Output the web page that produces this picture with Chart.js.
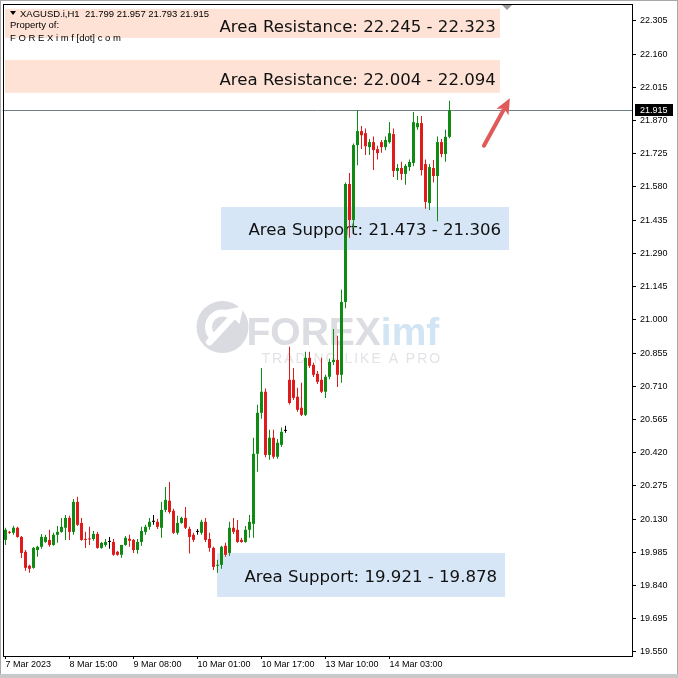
<!DOCTYPE html>
<html>
<head>
<meta charset="utf-8">
<title>XAGUSD H1</title>
<script src="https://cdn.jsdelivr.net/npm/chart.js@4.4.0/dist/chart.umd.min.js"></script>
<style>
  html, body { margin: 0; padding: 0; background: #fff; }
  #wrap { width: 678px; height: 678px; }
</style>
</head>
<body>
<div id="wrap"><canvas id="chart" width="678" height="678"></canvas></div>
<script>
// header line of the chart window
const symbolLine = 'XAGUSD.i,H1  21.799 21.957 21.793 21.915';

// hourly candles, 7 Mar 2023 -> 14 Mar
const opens = [
  20.039, 20.074, 20.070, 20.092, 20.052, 19.987, 19.926, 19.917, 19.995, 20.009,
  20.030, 20.039, 20.017, 20.061, 20.074, 20.092, 20.135, 20.074, 20.205, 20.113,
  20.043, 20.045, 20.043, 20.065, 20.004, 20.017, 20.030, 20.030, 19.987, 19.974,
  20.017, 20.044, 20.039, 19.995, 20.030, 20.074, 20.096, 20.118, 20.118, 20.092,
  20.170, 20.210, 20.166, 20.070, 20.113, 20.135, 20.087, 20.061, 20.074, 20.070,
  20.118, 20.043, 20.004, 19.926, 19.930, 20.013, 19.982, 20.092, 20.083, 20.039,
  20.030, 20.083, 20.109, 20.415, 20.594, 20.686, 20.410, 20.485, 20.402, 20.454,
  20.515, 20.738, 20.738, 20.664, 20.616, 20.585, 20.834, 20.803, 20.764, 20.738,
  20.686, 20.751, 20.816, 20.825, 20.760, 21.078, 21.593, 21.436, 21.763, 21.824,
  21.815, 21.754, 21.776, 21.745, 21.776, 21.754, 21.776, 21.811, 21.650, 21.663,
  21.637, 21.667, 21.685, 21.841, 21.859, 21.680, 21.510, 21.663, 21.628, 21.776,
  21.724, 21.799
];
const highs = [
  20.092, 20.078, 20.101, 20.096, 20.056, 19.995, 19.930, 20.008, 20.013, 20.065,
  20.061, 20.083, 20.070, 20.100, 20.135, 20.148, 20.144, 20.218, 20.227, 20.135,
  20.074, 20.096, 20.078, 20.074, 20.030, 20.043, 20.052, 20.043, 19.991, 20.017,
  20.056, 20.061, 20.043, 20.043, 20.096, 20.105, 20.135, 20.148, 20.131, 20.205,
  20.270, 20.292, 20.175, 20.144, 20.140, 20.183, 20.096, 20.070, 20.087, 20.127,
  20.135, 20.070, 20.009, 19.952, 20.013, 20.026, 20.118, 20.135, 20.126, 20.048,
  20.100, 20.148, 20.485, 20.629, 20.790, 20.700, 20.520, 20.520, 20.480, 20.530,
  20.537, 20.882, 20.790, 20.703, 20.725, 20.860, 20.860, 20.812, 20.777, 20.834,
  20.760, 20.830, 20.960, 20.930, 21.131, 21.600, 21.641, 21.770, 21.915, 21.846,
  21.835, 21.790, 21.800, 21.760, 21.785, 21.800, 21.864, 21.835, 21.680, 21.690,
  21.680, 21.700, 21.907, 21.890, 21.890, 21.700, 21.680, 21.698, 21.800, 21.790,
  21.830, 21.957
];
const lows = [
  20.017, 20.065, 20.061, 20.048, 19.960, 19.904, 19.895, 19.913, 19.965, 20.000,
  20.026, 20.009, 20.013, 20.026, 20.070, 20.039, 20.039, 20.061, 20.100, 20.035,
  20.004, 20.017, 20.035, 20.000, 20.000, 20.009, 20.000, 19.970, 19.970, 19.961,
  20.013, 20.009, 19.982, 19.978, 20.013, 20.061, 20.083, 20.105, 20.087, 20.048,
  20.160, 20.153, 20.065, 20.061, 20.109, 20.087, 19.980, 20.030, 20.061, 20.061,
  20.030, 19.987, 19.908, 19.895, 19.913, 19.965, 19.970, 20.065, 20.026, 20.026,
  20.026, 20.048, 20.048, 20.336, 20.568, 20.400, 20.389, 20.393, 20.393, 20.445,
  20.507, 20.630, 20.650, 20.598, 20.580, 20.580, 20.790, 20.750, 20.720, 20.680,
  20.659, 20.740, 20.803, 20.707, 20.725, 21.050, 21.358, 21.400, 21.675, 21.746,
  21.720, 21.720, 21.654, 21.700, 21.730, 21.740, 21.770, 21.624, 21.610, 21.610,
  21.590, 21.650, 21.670, 21.830, 21.630, 21.485, 21.480, 21.600, 21.430, 21.710,
  21.690, 21.793
];
const closes = [
  20.083, 20.070, 20.092, 20.052, 19.982, 19.917, 19.913, 20.004, 20.009, 20.052,
  20.052, 20.017, 20.061, 20.074, 20.096, 20.135, 20.074, 20.205, 20.105, 20.039,
  20.039, 20.041, 20.065, 20.004, 20.026, 20.030, 20.030, 19.974, 19.974, 20.017,
  20.048, 20.035, 19.995, 20.030, 20.078, 20.096, 20.118, 20.118, 20.096, 20.170,
  20.214, 20.161, 20.070, 20.113, 20.135, 20.092, 20.052, 20.039, 20.074, 20.118,
  20.039, 20.004, 19.921, 19.930, 20.009, 19.974, 20.092, 20.074, 20.030, 20.030,
  20.083, 20.118, 20.415, 20.594, 20.686, 20.410, 20.485, 20.402, 20.463, 20.511,
  20.515, 20.637, 20.659, 20.607, 20.585, 20.834, 20.799, 20.760, 20.729, 20.686,
  20.751, 20.816, 20.825, 20.760, 21.078, 21.593, 21.436, 21.763, 21.824, 21.806,
  21.758, 21.776, 21.741, 21.728, 21.754, 21.785, 21.815, 21.650, 21.663, 21.637,
  21.672, 21.689, 21.863, 21.859, 21.654, 21.515, 21.667, 21.628, 21.776, 21.724,
  21.799, 21.915
];

const xTickIndex = [0, 16, 32, 48, 64, 80, 96];
const xTickLabels = ['7 Mar 2023', '8 Mar 15:00', '9 Mar 08:00', '10 Mar 01:00',
                     '10 Mar 17:00', '13 Mar 10:00', '14 Mar 03:00'];
const yTicks = [19.550, 19.695, 19.840, 19.985, 20.130, 20.275, 20.420, 20.565, 20.710, 20.855,
                21.000, 21.145, 21.290, 21.435, 21.580, 21.725, 21.870, 22.015, 22.160, 22.305];
const lastPrice = 21.915;

// labelled areas: bar range (from/to) and price range (top/bottom)
const zoneText = ['Area Resistance: 22.245 - 22.323', 'Area Resistance: 22.004 - 22.094',
                  'Area Support: 21.473 - 21.306', 'Area Support: 19.921 - 19.878'];
const zoneFrom = [-0.125, -0.125, 53.9, 52.9];
const zoneTo = [123.6, 123.6, 125.9, 124.9];
const zoneTop = [22.358, 22.135, 21.493, 19.982];
const zoneBottom = [22.231, 21.991, 21.305, 19.790];
const zoneKind = ['res', 'res', 'sup', 'sup'];

// arrow pointing up from the last bars (bar index, price)
const arrowFrom = [119.6, 21.760];
const arrowTo = [126.1, 21.967];

const UP = '#0f8a12';
const DOWN = '#e01b1b';
const DOJI = '#000000';

const idx = opens.map((_, i) => i);
const candleColor = idx.map(i => closes[i] > opens[i] ? UP : (closes[i] < opens[i] ? DOWN : DOJI));

Chart.defaults.font.family = '"Liberation Sans", Arial, sans-serif';
Chart.defaults.font.size = 9;
Chart.defaults.color = '#000';

const decor = {
    id: 'decor',
    beforeDraw(chart) {
        const c = chart.ctx;
        c.save();
        c.fillStyle = '#fff';
        c.fillRect(0, 0, chart.width, chart.height);
        c.restore();
    },
    beforeDatasetsDraw(chart) {
        const c = chart.ctx;
        const a = chart.chartArea;
        const x = chart.scales.x, y = chart.scales.y;
        c.save();

        // watermark
        const cx = (a.left + a.right) / 2, cy = (a.top + a.bottom) / 2;
        c.fillStyle = '#dadae1';
        c.beginPath();
        c.arc(cx - 95, cy - 3, 26, 0, Math.PI * 2);
        c.fill();
        c.strokeStyle = '#fff';
        c.lineWidth = 7;
        c.lineCap = 'round';
        c.beginPath();
        c.arc(cx - 95, cy - 3, 14, Math.PI * 0.75, Math.PI * 1.75);
        c.stroke();
        c.beginPath();
        c.moveTo(cx - 108, cy + 12);
        c.lineTo(cx - 84, cy - 14);
        c.stroke();
        c.fillStyle = '#fff';
        c.beginPath();
        c.moveTo(cx - 74, cy - 24);
        c.lineTo(cx - 92, cy - 20);
        c.lineTo(cx - 78, cy - 6);
        c.closePath();
        c.fill();
        c.font = 'bold 39px "Liberation Sans"';
        c.textBaseline = 'alphabetic';
        c.textAlign = 'left';
        c.fillStyle = '#dcdce3';
        c.fillText('FOREX', cx - 71, cy + 15);
        const w = c.measureText('FOREX').width;
        c.fillStyle = '#d2e5f4';
        c.fillText('imf', cx - 71 + w, cy + 15);
        c.font = '14px "Liberation Sans"';
        c.letterSpacing = '2px';
        c.fillStyle = '#e3e3e7';
        c.fillText('TRADING LIKE A PRO', cx - 56, cy + 33);
        c.letterSpacing = '0px';

        // areas
        zoneText.forEach((t, i) => {
            const x0 = x.getPixelForValue(zoneFrom[i]);
            const x1 = x.getPixelForValue(zoneTo[i]);
            const y0 = y.getPixelForValue(zoneTop[i]);
            const y1 = y.getPixelForValue(zoneBottom[i]);
            c.fillStyle = zoneKind[i] === 'res' ? '#fde2d5' : '#d6e6f6';
            c.fillRect(x0, y0, x1 - x0, y1 - y0);
            c.fillStyle = '#111';
            c.font = '16.6px "DejaVu Sans"';
            c.textAlign = 'right';
            c.textBaseline = 'middle';
            const pad = zoneKind[i] === 'res' ? 4 : 8;
            const shift = zoneKind[i] === 'res' ? 4.5 : 2.5;
            c.fillText(t, x1 - pad, (y0 + y1) / 2 + shift);
        });

        // current price line
        const py = Math.round(y.getPixelForValue(lastPrice)) + 0.5;
        c.strokeStyle = '#6e7f8a';
        c.lineWidth = 1;
        c.beginPath();
        c.moveTo(a.left, py);
        c.lineTo(a.right, py);
        c.stroke();
        c.restore();
    },
    afterDraw(chart) {
        const c = chart.ctx;
        const a = chart.chartArea;
        const x = chart.scales.x, y = chart.scales.y;
        c.save();

        // arrow
        const ax0 = x.getPixelForValue(arrowFrom[0]), ay0 = y.getPixelForValue(arrowFrom[1]);
        const ax1 = x.getPixelForValue(arrowTo[0]), ay1 = y.getPixelForValue(arrowTo[1]);
        const ang = Math.atan2(ay1 - ay0, ax1 - ax0);
        const head = 17;
        c.strokeStyle = '#e05a5a';
        c.fillStyle = '#e05a5a';
        c.lineWidth = 4;
        c.lineCap = 'round';
        c.beginPath();
        c.moveTo(ax0, ay0);
        c.lineTo(ax1 - Math.cos(ang) * head * 0.8, ay1 - Math.sin(ang) * head * 0.8);
        c.stroke();
        c.beginPath();
        c.moveTo(ax1, ay1);
        c.lineTo(ax1 - head * Math.cos(ang - 0.42), ay1 - head * Math.sin(ang - 0.42));
        c.lineTo(ax1 - head * 0.7 * Math.cos(ang), ay1 - head * 0.7 * Math.sin(ang));
        c.lineTo(ax1 - head * Math.cos(ang + 0.42), ay1 - head * Math.sin(ang + 0.42));
        c.closePath();
        c.fill();

        // plot frame
        c.strokeStyle = '#000';
        c.lineWidth = 1;
        c.strokeRect(a.left + 0.5, a.top + 0.5, a.right - a.left, a.bottom - a.top);

        // chart shift marker
        c.fillStyle = '#9a9a9a';
        c.beginPath();
        c.moveTo(502, a.top + 1);
        c.lineTo(512, a.top + 1);
        c.lineTo(507, a.top + 6);
        c.closePath();
        c.fill();

        // header texts
        c.fillStyle = '#000';
        c.beginPath();
        c.moveTo(10, 11);
        c.lineTo(16, 11);
        c.lineTo(13, 15);
        c.closePath();
        c.fill();
        c.font = '9.5px "Liberation Sans"';
        c.textAlign = 'left';
        c.textBaseline = 'alphabetic';
        c.fillText(symbolLine, 20, 17);
        c.fillText('Property of:', 10, 28);
        c.fillText('F O R E X i m f [dot] c o m', 10, 41);

        // last price tag
        const py = Math.round(y.getPixelForValue(lastPrice));
        c.fillStyle = '#000';
        c.fillRect(a.right + 3, py - 6, 38, 12);
        c.fillStyle = '#fff';
        c.font = '9px "Liberation Sans"';
        c.textBaseline = 'middle';
        c.fillText(lastPrice.toFixed(3), a.right + 8, py + 0.5);

        // window border
        c.strokeStyle = '#a8a8a8';
        c.strokeRect(0.5, 0.5, chart.width - 1, chart.height - 1);
        c.fillStyle = '#c9c9c9';
        c.fillRect(0, chart.height - 4, chart.width, 4);
        c.restore();
    }
};

const ctx = document.getElementById('chart');
new Chart(ctx, {
    type: 'bar',
    data: {
        datasets: [
            {
                label: 'wick',
                data: idx.map(i => ({ x: i, y: [lows[i], highs[i]] })),
                backgroundColor: candleColor,
                barThickness: 1,
                grouped: false,
                inflateAmount: 0,
                borderWidth: 0,
                minBarLength: 1
            },
            {
                label: 'body',
                data: idx.map(i => ({ x: i, y: [opens[i], closes[i]] })),
                backgroundColor: candleColor,
                barThickness: 3,
                grouped: false,
                inflateAmount: 0,
                borderWidth: 0,
                minBarLength: 1
            }
        ]
    },
    options: {
        responsive: false,
        animation: false,
        events: [],
        layout: { padding: { left: 3, top: 4, right: 0, bottom: 0 } },
        plugins: { legend: { display: false }, tooltip: { enabled: false } },
        scales: {
            x: {
                type: 'linear',
                min: -0.625,
                max: 156.625,
                offset: false,
                grid: { display: true, drawOnChartArea: false, drawTicks: true, tickLength: 3, color: '#000', offset: false },
                border: { display: true, color: '#000' },
                ticks: {
                    autoSkip: false,
                    maxRotation: 0,
                    align: 'start',
                    padding: 0,
                    font: { size: 9 },
                    callback: v => {
                        const k = xTickIndex.indexOf(v);
                        return k >= 0 ? xTickLabels[k] : '';
                    }
                },
                afterBuildTicks: s => { s.ticks = xTickIndex.map(v => ({ value: v })); },
                afterFit: s => { s.height = 22; s.paddingLeft = 0; s.paddingRight = 0; }
            },
            y: {
                type: 'linear',
                position: 'right',
                min: 19.532,
                max: 22.379,
                grid: { display: true, drawOnChartArea: false, drawTicks: true, tickLength: 4, color: '#000' },
                border: { display: true, color: '#000' },
                ticks: {
                    autoSkip: false,
                    padding: 4,
                    font: { size: 9 },
                    callback: v => Number(v).toFixed(3)
                },
                afterBuildTicks: s => { s.ticks = yTicks.map(v => ({ value: v })); },
                afterFit: s => { s.width = 46; s.paddingTop = 0; s.paddingBottom = 0; }
            }
        }
    },
    plugins: [decor]
});
</script>
</body>
</html>
